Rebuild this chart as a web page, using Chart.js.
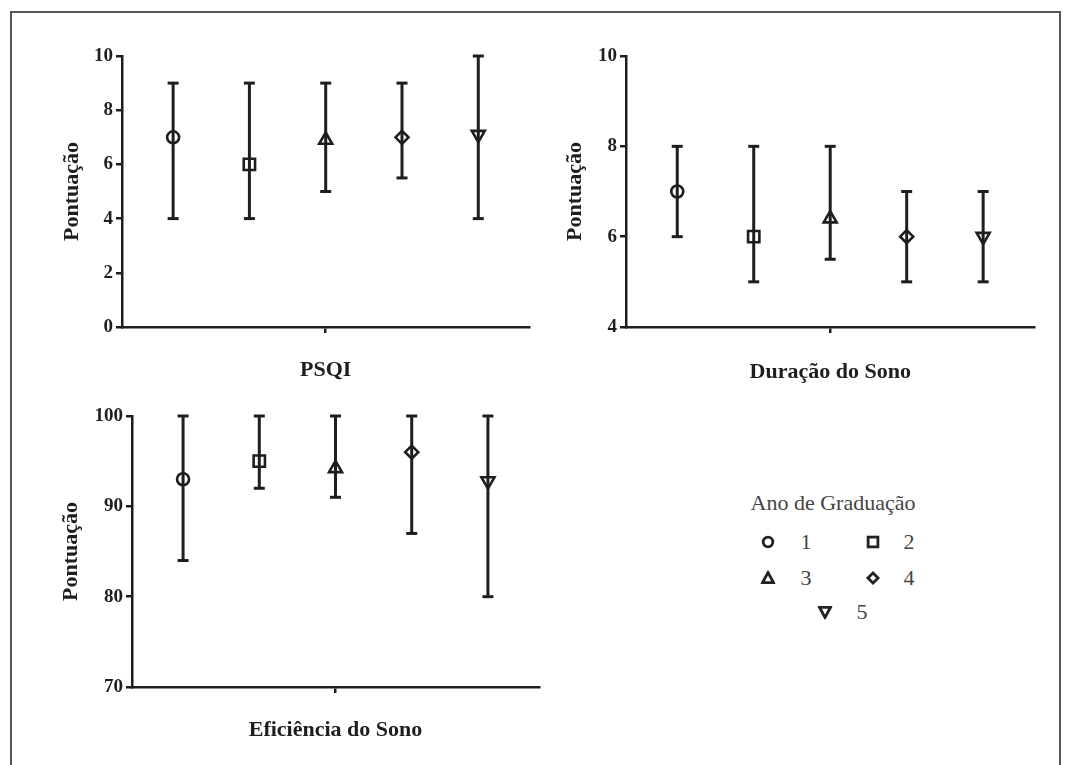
<!DOCTYPE html>
<html lang="pt">
<head>
<meta charset="utf-8">
<title>Pontuação por ano de graduação</title>
<script src="https://cdn.jsdelivr.net/npm/chart.js@4.4.1/dist/chart.umd.min.js"></script>
<style>
    body {
        margin: 0;
        background: #fff;
        width: 1067px;
        height: 765px;
        overflow: hidden;
        position: relative;
        font-family: "Liberation Serif", "Times New Roman", serif;
    }
    .frame {
        position: absolute;
        left: 10px;
        top: 11px;
        width: 1051px;
        height: 800px;
        border: 2px solid #555;
        box-sizing: border-box;
    }
    canvas { position: absolute; }
    .legend-title, .legend-num, .legend-mark {
        position: absolute;
        transform: translate(-50%, -50%);
        color: #444;
        white-space: nowrap;
    }
    .legend-title { font-size: 22px; }
    .legend-num { font-size: 22px; }
    .legend-mark { width: 15px; height: 15px; }
</style>
</head>
<body>
<div class="frame"></div>

<canvas id="psqiChart" width="500" height="360" style="left:40px;top:40px"></canvas>
<canvas id="duracaoChart" width="500" height="360" style="left:545px;top:40px"></canvas>
<canvas id="eficienciaChart" width="510" height="360" style="left:40px;top:400px"></canvas>

<!-- Legend: Ano de Graduação -->
<div class="legend-title" style="left:833px;top:503px">Ano de Graduação</div>

<svg class="legend-mark" style="left:768px;top:542px" viewBox="0 0 15 15"><circle cx="7.5" cy="7.5" r="4.8" fill="none" stroke="#222" stroke-width="2.8"/></svg>
<div class="legend-num" style="left:806px;top:542px">1</div>
<svg class="legend-mark" style="left:873px;top:542px" viewBox="0 0 15 15"><rect x="2.6" y="2.6" width="9.8" height="9.8" fill="none" stroke="#222" stroke-width="2.8"/></svg>
<div class="legend-num" style="left:909px;top:542px">2</div>

<svg class="legend-mark" style="left:768px;top:578px" viewBox="0 0 15 15"><polygon points="7.5,2 13,12.2 2,12.2" fill="none" stroke="#222" stroke-width="2.8"/></svg>
<div class="legend-num" style="left:806px;top:578px">3</div>
<svg class="legend-mark" style="left:873px;top:578px" viewBox="0 0 15 15"><polygon points="7.5,2.4 12.6,7.5 7.5,12.6 2.4,7.5" fill="none" stroke="#222" stroke-width="2.8"/></svg>
<div class="legend-num" style="left:909px;top:578px">4</div>

<svg class="legend-mark" style="left:825px;top:612px" viewBox="0 0 15 15"><polygon points="2,2.8 13,2.8 7.5,13" fill="none" stroke="#222" stroke-width="2.8"/></svg>
<div class="legend-num" style="left:862px;top:612px">5</div>

<script>
// Graduation years (one marker per year)
const groups = ['1', '2', '3', '4', '5'];

// PSQI: median and range per year
const psqiMedian = [7, 6, 6.9, 7, 7.1];
const psqiLow = [4, 4, 5, 5.5, 4];
const psqiHigh = [9, 9, 9, 9, 10];
const psqiTicks = [0, 2, 4, 6, 8, 10];

// Duração do Sono
const duracaoMedian = [7, 6, 6.4, 6, 6];
const duracaoLow = [6, 5, 5.5, 5, 5];
const duracaoHigh = [8, 8, 8, 7, 7];
const duracaoTicks = [4, 6, 8, 10];

// Eficiência do Sono
const eficienciaMedian = [93, 95, 94.2, 96, 92.8];
const eficienciaLow = [84, 92, 91, 87, 80];
const eficienciaHigh = [100, 100, 100, 100, 100];
const eficienciaTicks = [70, 80, 90, 100];

const ink = '#1e1e1e';
const serif = '"Liberation Serif", "Times New Roman", serif';

// marker shape for each year
const markerStyles = ['circle', 'rect', 'triangle', 'rectRot', 'triangle'];
const markerRotation = [0, 0, 0, 0, 180];
const markerRadius = [6, 8, 7.5, 6.5, 7.5];

// Build one error-bar panel
function buildPanel(canvasId, title, medians, lows, highs, yTicks, geom) {
    const ctx = document.getElementById(canvasId).getContext('2d');

    // one vertical range line per year, caps drawn as 'line' points
    const rangeSets = groups.map((g, i) => ({
        label: 'Ano ' + g,
        data: [{ x: i + 1, y: lows[i] }, { x: i + 1, y: highs[i] }],
        showLine: true,
        borderColor: ink,
        borderWidth: 3,
        pointStyle: 'line',
        pointRadius: 5.5,
        pointBorderColor: ink,
        pointBorderWidth: 3,
        order: 2,
        clip: false
    }));

    const medianSet = {
        label: 'Mediana',
        data: medians.map((v, i) => ({ x: i + 1, y: v })),
        showLine: false,
        pointStyle: markerStyles,
        pointRotation: markerRotation,
        pointRadius: markerRadius,
        pointBackgroundColor: 'rgba(0,0,0,0)',
        pointBorderColor: ink,
        pointBorderWidth: 2.6,
        order: 1,
        clip: false
    };

    return new Chart(ctx, {
        type: 'scatter',
        data: { datasets: [medianSet, ...rangeSets] },
        options: {
            responsive: false,
            animation: false,
            events: [],
            layout: { padding: geom.padding },
            plugins: {
                legend: { display: false },
                tooltip: { enabled: false }
            },
            scales: {
                x: {
                    type: 'linear',
                    min: 0.33,
                    max: 5.67,
                    afterBuildTicks: s => { s.ticks = [{ value: 3 }]; },
                    afterFit: s => { s.height = geom.xHeight; },
                    ticks: { callback: () => '' },
                    grid: { drawOnChartArea: false, tickLength: 6, color: ink, lineWidth: 2.5 },
                    border: { color: ink, width: 2.5 },
                    title: {
                        display: true,
                        text: title,
                        color: ink,
                        font: { family: serif, size: 22, weight: 'bold' },
                        padding: { top: 0, bottom: geom.xTitlePad }
                    }
                },
                y: {
                    min: yTicks[0],
                    max: yTicks[yTicks.length - 1],
                    afterBuildTicks: s => { s.ticks = yTicks.map(v => ({ value: v })); },
                    afterFit: s => { s.width = geom.yWidth; },
                    ticks: {
                        color: ink,
                        padding: 3,
                        font: { family: serif, size: 19, weight: 'bold' }
                    },
                    grid: { drawOnChartArea: false, tickLength: 6, color: ink, lineWidth: 2.5 },
                    border: { color: ink, width: 2.5 },
                    title: {
                        display: true,
                        text: 'Pontuação',
                        color: ink,
                        font: { family: serif, size: 22, weight: 'bold' },
                        padding: { top: geom.yTitlePad, bottom: 0 }
                    }
                }
            }
        }
    });
}

window.onload = function() {
    buildPanel('psqiChart', 'PSQI', psqiMedian, psqiLow, psqiHigh, psqiTicks, {
        padding: { top: 16, right: 7, left: 0, bottom: 0 },
        yWidth: 82, xHeight: 73, xTitlePad: 16.8, yTitlePad: 18.8
    });
    buildPanel('duracaoChart', 'Duração do Sono', duracaoMedian, duracaoLow, duracaoHigh, duracaoTicks, {
        padding: { top: 16, right: 8, left: 0, bottom: 0 },
        yWidth: 81, xHeight: 73, xTitlePad: 14.8, yTitlePad: 16.8
    });
    buildPanel('eficienciaChart', 'Eficiência do Sono', eficienciaMedian, eficienciaLow, eficienciaHigh, eficienciaTicks, {
        padding: { top: 16, right: 11, left: 0, bottom: 0 },
        yWidth: 92, xHeight: 73, xTitlePad: 16.8, yTitlePad: 18.5
    });
};
</script>
</body>
</html>
